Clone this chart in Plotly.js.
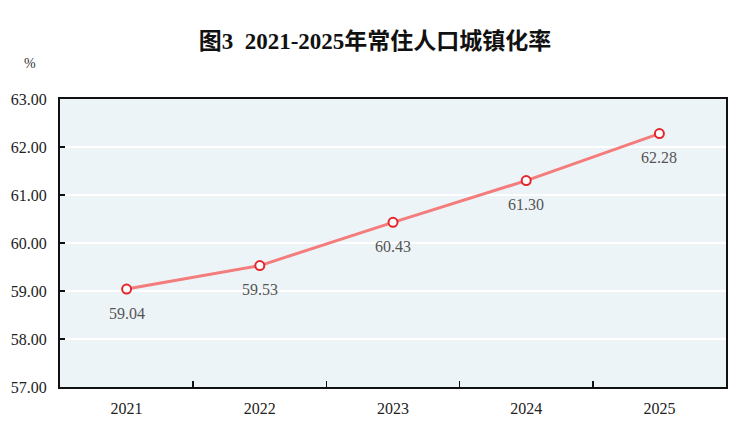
<!DOCTYPE html>
<html><head><meta charset="utf-8">
<script src="https://cdn.plot.ly/plotly-3.0.1.min.js"></script>
<style>body{margin:0;background:#fff}#c{width:750px;height:431px}</style>
</head><body><div id="c"></div>
<script>
const years = ['2021','2022','2023','2024','2025'];
const rates = [59.04, 59.53, 60.43, 61.30, 62.28];
const yTicks = [57, 58, 59, 60, 61, 62, 63];

const serif = 'Liberation Serif, Times New Roman, serif';
const trace = {
  type: 'scatter', mode: 'lines+markers',
  x: years, y: rates,
  line: {color: '#f47c7c', width: 3},
  marker: {symbol: 'circle', size: 9, color: '#fff', line: {color: '#e3262b', width: 2}},
  cliponaxis: false, hoverinfo: 'skip'
};
const labels = years.map((yr, i) => ({
  x: i, y: rates[i], xref: 'x', yref: 'y', text: rates[i].toFixed(2),
  showarrow: false, yshift: -24, xanchor: 'center', yanchor: 'middle',
  font: {family: serif, size: 16, color: '#555'}
}));
const layout = {
  width: 750, height: 431,
  margin: {l: 60, r: 24, t: 99, b: 44},
  paper_bgcolor: '#fff', plot_bgcolor: '#edf4f7',
  showlegend: false,
  title: {text: '<b>图3  2021-2025年常住人口城镇化率</b>', x: 0.5, xanchor: 'center', y: 0.905, yanchor: 'middle',
    font: {family: serif + ', Noto Sans CJK SC', size: 23, color: '#111'}},
  xaxis: {type: 'category', range: [-0.5, 4.5], tickson: 'boundaries', ticks: 'inside', ticklen: 6, tickcolor: '#111', tickwidth: 1.5,
    showgrid: false, showline: true, linecolor: '#111', linewidth: 2, mirror: true, ticklabelstandoff: 6,
    tickfont: {family: serif, size: 16, color: '#222'}, fixedrange: true},
  yaxis: {range: [57, 63], tickvals: yTicks, ticktext: yTicks.map(v => v.toFixed(2)),
    ticks: 'inside', ticklen: 5, tickcolor: '#111', tickwidth: 1.5,
    showgrid: true, gridcolor: '#ffffff', gridwidth: 1.5, zeroline: false,
    showline: true, linecolor: '#111', linewidth: 2, mirror: true, ticklabelstandoff: 8,
    tickfont: {family: serif, size: 16, color: '#222'}, fixedrange: true},
  annotations: labels.concat([{text: '%', xref: 'paper', yref: 'paper', x: -0.045, y: 1.125, xanchor: 'center', yanchor: 'middle',
    showarrow: false, font: {family: serif, size: 14, color: '#333'}}])
};
Plotly.newPlot('c', [trace], layout, {displayModeBar: false, staticPlot: true});
</script></body></html>
